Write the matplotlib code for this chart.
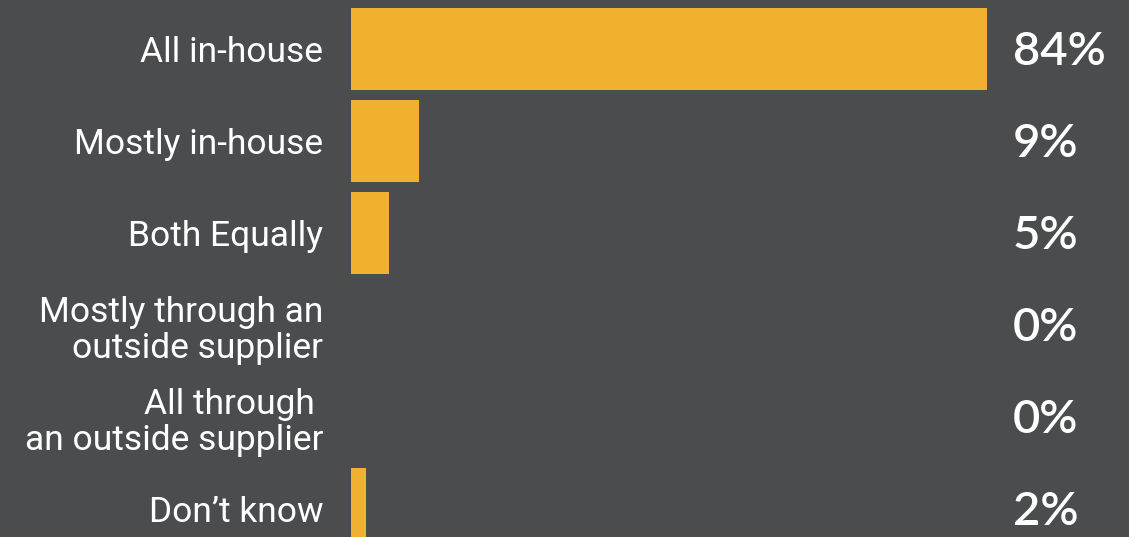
import numpy as np
import matplotlib.pyplot as plt

categories = ['All in-house', 'Mostly in-house', 'Both Equally',
              'Mostly through an\noutside supplier',
              'All through \nan outside supplier', 'Don\u2019t know']
shares = [84, 9, 5, 0, 0, 2]

bg = '#4b4c4e'
bar_color = '#f0b030'

fig = plt.figure(figsize=(11.29, 5.37), dpi=100, facecolor=bg)
# axes starts where the bars start, 0..100 scale
ax = fig.add_axes([351 / 1129, 0, 757 / 1129, 1])
ax.set_facecolor(bg)

pos = np.arange(len(categories))
ax.barh(pos, shares, height=0.89, color=bar_color)
ax.set_xlim(0, 100)
ax.set_ylim((537 - 49) / 92, -49 / 92)

ax.set_yticks(pos)
ax.set_yticklabels(categories, fontsize=25.5, color='white', family='Roboto',
                   linespacing=1.15)
ax.tick_params(axis='y', length=0, pad=20)
ax.set_xticks([])
for s in ax.spines.values():
    s.set_visible(False)

for p, v in zip(pos, shares):
    ax.text(87.4, p + 0.03, f'{v}%', fontsize=34, color='white', family='Lato',
            fontweight='semibold', va='center', ha='left')

fig.savefig('out.png', dpi=100, facecolor=bg)
